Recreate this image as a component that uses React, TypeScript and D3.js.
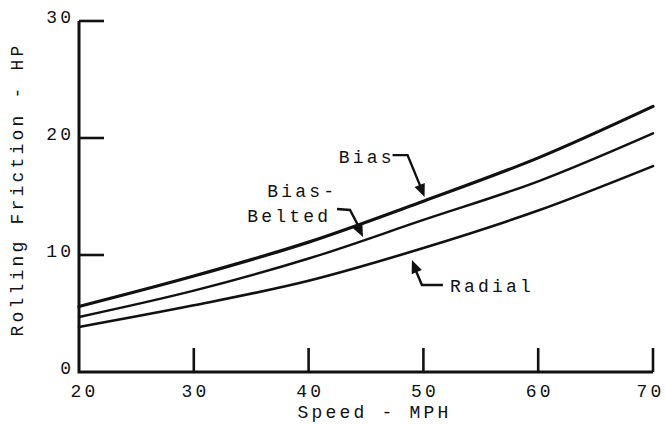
import React from "react";
import * as d3 from "d3";

const speeds = [20, 30, 40, 50, 60, 70];
const biasHP = [5.6, 8.2, 11.1, 14.6, 18.3, 22.7];
const beltedHP = [4.7, 6.95, 9.7, 13.0, 16.3, 20.4];
const radialHP = [3.85, 5.7, 7.8, 10.6, 13.8, 17.6];

const xTicks = [20, 30, 40, 50, 60, 70];
const yTicks = [0, 10, 20, 30];

const xTitle = "Speed - MPH";
const yTitle = "Rolling Friction - HP";

const W = 665;
const H = 424;
const FONT = "Liberation Mono, Cousine, Courier New, Courier, monospace";
const FS = 18;
const LS = 3.2;
const INK = "#111";

const x = d3.scaleLinear().domain([20, 70]).range([79, 653]);
const y = d3.scaleLinear().domain([0, 30]).range([372, 21]);

const series = [
  { name: "Bias", values: biasHP, width: 3.2 },
  { name: "Bias-Belted", values: beltedHP, width: 2.4 },
  { name: "Radial", values: radialHP, width: 2.6 },
];

// annotation: tip in data coords, leader/text offsets in px relative to tip
const annotations = [
  {
    tip: [50.1, 14.95],
    leader: [[-32, -42], [-17, -42], [-3, -8]],
    lines: ["Bias"],
    text: [-33, -34],
    anchor: "end",
  },
  {
    tip: [44.74, 11.54],
    leader: [[-26, -28], [-13, -27], [-2, -6]],
    lines: ["Bias-", "Belted"],
    text: [-29, -40],
    anchor: "end",
    lineOffsets: [0, -6],
  },
  {
    tip: [49.0, 9.57],
    leader: [[31, 25], [10, 25], [2, 6]],
    lines: ["Radial"],
    text: [38, 32],
    anchor: "start",
  },
];

function arrowHead(tx: number, ty: number, fx: number, fy: number) {
  const ang = Math.atan2(ty - fy, tx - fx);
  const len = 13;
  const hw = 5.5;
  const bx = tx - len * Math.cos(ang);
  const by = ty - len * Math.sin(ang);
  const px = -Math.sin(ang) * hw;
  const py = Math.cos(ang) * hw;
  return `M${tx},${ty}L${bx + px},${by + py}L${bx - px},${by - py}Z`;
}

const textStyle = { fontFamily: FONT, fontSize: FS, letterSpacing: LS, fill: INK } as const;

export default function App() {
  const line = d3
    .line<number>()
    .x((_, i) => x(speeds[i]))
    .y((d) => y(d))
    .curve(d3.curveMonotoneX);

  return (
    <svg
      width={W}
      height={H}
      style={{ position: "absolute", left: 0, top: 0, background: "#fff" }}
    >
      <rect x={0} y={0} width={W} height={H} fill="#fff" />
      {/* axes */}
      <path
        d={`M${x(20)},${y(30)}L${x(20)},${y(0)}L${x(70)},${y(0)}`}
        fill="none"
        stroke={INK}
        strokeWidth={3}
      />
      {yTicks
        .filter((t) => t > 0)
        .map((t) => (
          <line
            key={"yt" + t}
            x1={x(20)}
            x2={x(20) + 25}
            y1={y(t)}
            y2={y(t)}
            stroke={INK}
            strokeWidth={2.6}
          />
        ))}
      {xTicks
        .filter((t) => t > 20)
        .map((t) => (
          <line
            key={"xt" + t}
            x1={x(t)}
            x2={x(t)}
            y1={y(0)}
            y2={y(0) - 24}
            stroke={INK}
            strokeWidth={2.6}
          />
        ))}
      {/* tick labels */}
      {yTicks.map((t) => (
        <text key={"yl" + t} x={71 + LS} y={y(t) + 2} textAnchor="end" style={textStyle}>
          {t}
        </text>
      ))}
      {xTicks.map((t) => (
        <text
          key={"xl" + t}
          x={x(t) + LS / 2 + (t === 20 ? 4 : t === 70 ? -4 : 0)}
          y={397}
          textAnchor="middle"
          style={textStyle}
        >
          {t}
        </text>
      ))}
      {/* axis titles */}
      <text x={373 + LS / 2} y={418} textAnchor="middle" style={textStyle}>
        {xTitle}
      </text>
      <text
        transform={`translate(23,${188 + LS / 2}) rotate(-90)`}
        textAnchor="middle"
        style={textStyle}
      >
        {yTitle}
      </text>
      {/* curves */}
      {series.map((s) => (
        <path
          key={s.name}
          d={line(s.values) || ""}
          fill="none"
          stroke={INK}
          strokeWidth={s.width}
          strokeLinecap="round"
        />
      ))}
      {/* annotations */}
      {annotations.map((a, i) => {
        const tx = x(a.tip[0]);
        const ty = y(a.tip[1]);
        const pts = a.leader.map(([dx, dy]) => [tx + dx, ty + dy]);
        const prev = pts[pts.length - 2];
        return (
          <g key={"an" + i}>
            <path
              d={"M" + pts.map((p) => p.join(",")).join("L")}
              fill="none"
              stroke={INK}
              strokeWidth={2.4}
            />
            <path d={arrowHead(tx, ty, prev[0], prev[1])} fill={INK} />
            {a.lines.map((l, j) => (
              <text
                key={j}
                x={
                  tx +
                  a.text[0] +
                  (a.anchor === "end" ? LS : 0) +
                  (a.lineOffsets ? a.lineOffsets[j] : 0)
                }
                y={ty + a.text[1] + j * 25}
                textAnchor={a.anchor}
                style={textStyle}
              >
                {l}
              </text>
            ))}
          </g>
        );
      })}
    </svg>
  );
}
